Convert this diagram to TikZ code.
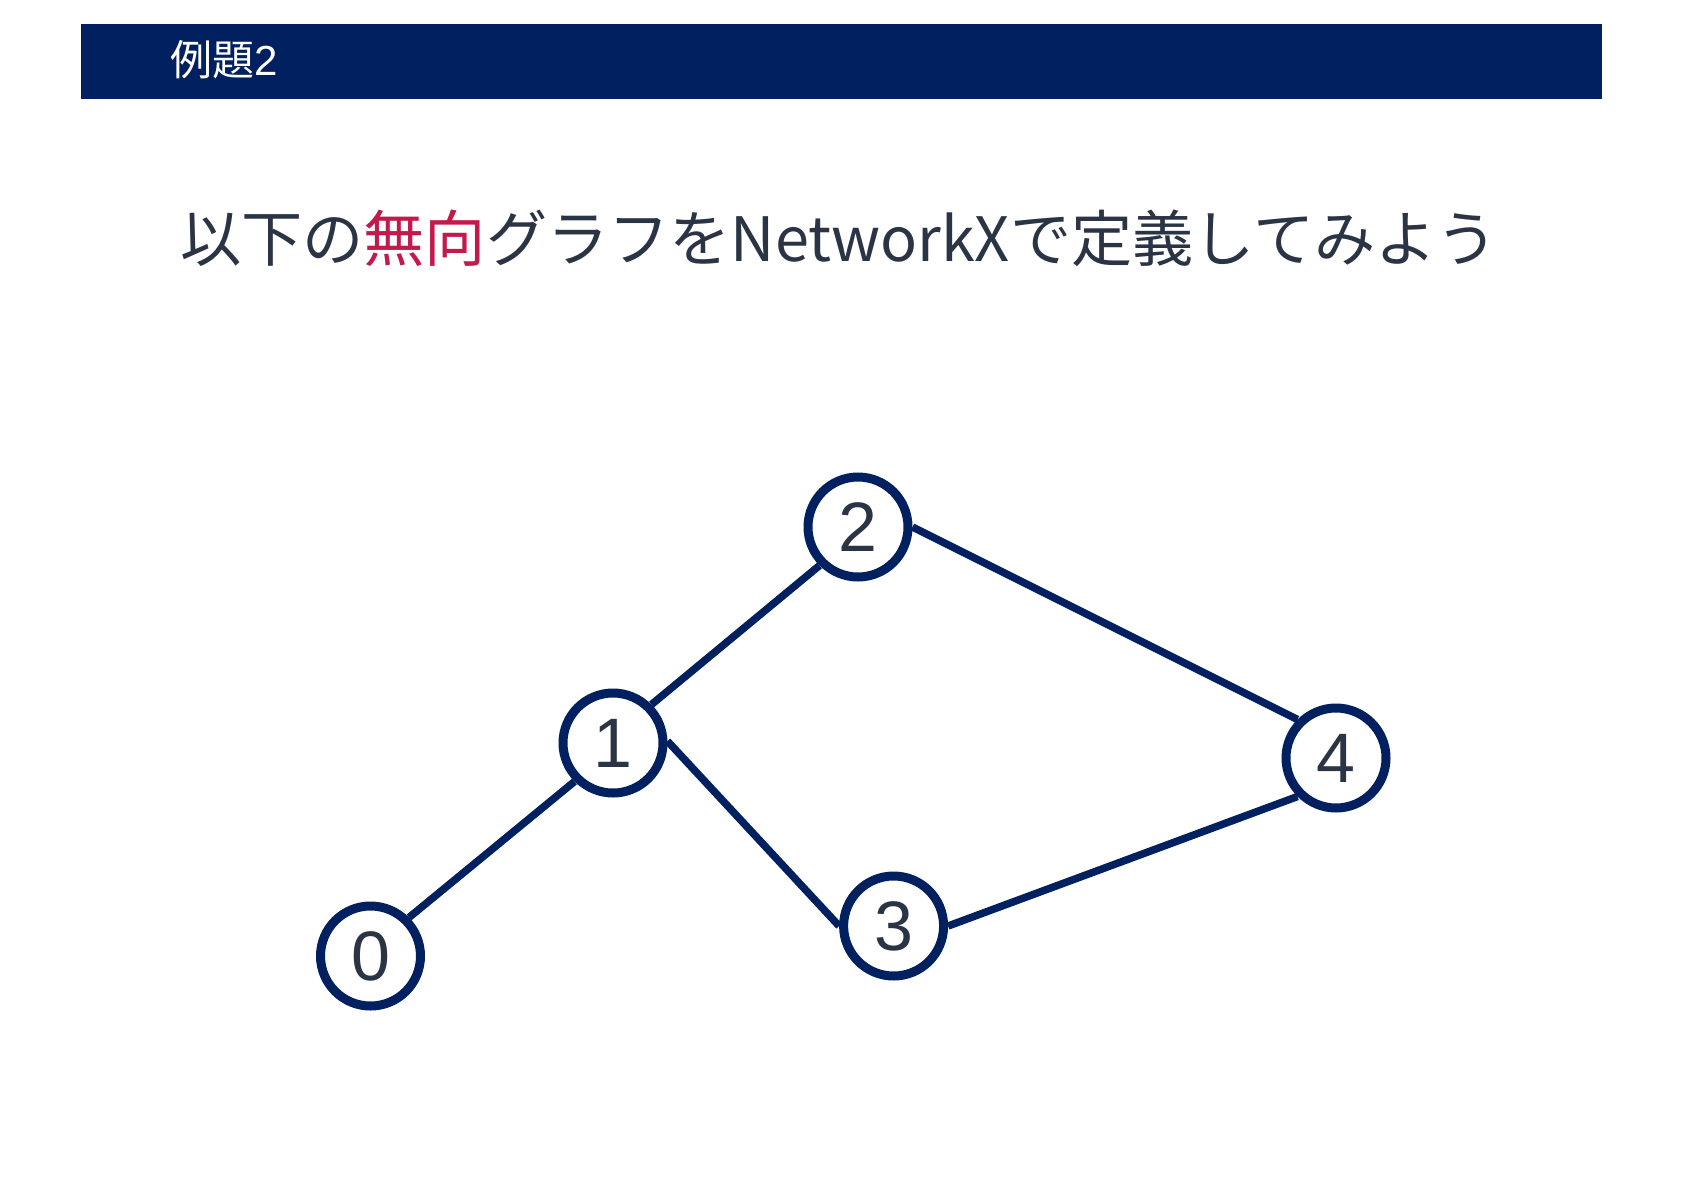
\documentclass[tikz,border=0pt]{standalone}
\usepackage{fontspec}
\setmainfont{Liberation Sans}
\newfontfamily\jpfont{Noto Sans CJK JP}
\definecolor{navy}{HTML}{002060}
\definecolor{titlecol}{HTML}{2B3445}
\definecolor{accent}{HTML}{C21A4B}
\definecolor{digitcol}{HTML}{2B3445}
\tikzset{
  gnode/.style={circle, draw=navy, line width=9pt, fill=white, minimum size=100pt, inner sep=0pt,
    text=digitcol, font=\fontsize{70}{70}\selectfont},
  gedge/.style={draw=navy, line width=7.5pt}
}
\begin{document}
\begin{tikzpicture}[x=1pt,y=-1pt]
\useasboundingbox (0,0) rectangle (1684,1191);
\fill[navy] (80.5,23.6) rectangle (1601.5,98.8);
\node[anchor=west, text=white, inner sep=0pt, font=\fontsize{42}{50}\selectfont] (hdr) at (170,60) {{\jpfont 例題}2};
\node[text=titlecol, inner sep=0pt, font=\jpfont\fontsize{61.2}{72}\selectfont] (title) at (839,238) {以下の\textcolor{accent}{無向}グラフをNetworkXで定義してみよう};
\node[gnode] (n0) at (370.5,956) {0};
\node[gnode] (n1) at (613,743) {1};
\node[gnode] (n2) at (858,527) {2};
\node[gnode] (n3) at (893.6,926) {3};
\node[gnode] (n4) at (1336,758) {4};
\draw[gedge] (n0.45) -- (n1.225);
\draw[gedge] (n1.45) -- (n2.225);
\draw[gedge] (n1.2) -- (n3.180);
\draw[gedge] (n2.east) -- (n4.135);
\draw[gedge] (n3.east) -- (n4.225);
\end{tikzpicture}
\end{document}
